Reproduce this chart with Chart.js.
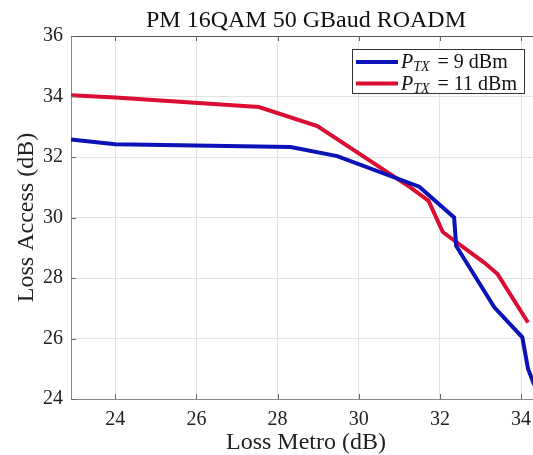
<!DOCTYPE html>
<html>
<head>
<meta charset="utf-8">
<script src="https://cdn.jsdelivr.net/npm/chart.js"></script>
<style>
  html,body{margin:0;padding:0;background:#fff;overflow:hidden}
  #wrap{width:533px;height:455px;position:relative;overflow:hidden}
</style>
</head>
<body>
<div id="wrap"><canvas id="c" width="541" height="455"></canvas></div>
<script>
/* =====  data  ===== */
const xTicks = [24, 26, 28, 30, 32, 34];
const yTicks = [24, 26, 28, 30, 32, 34, 36];

const series9x  = [22.91, 24.0, 28.32, 29.47, 31.49, 32.35, 32.40, 33.34, 34.03, 34.17, 34.30, 34.42];
const series9y  = [32.58, 32.42, 32.33, 32.03, 31.02, 30.0, 29.06, 27.03, 26.04, 25.0, 24.55, 24.2];
const series11x = [22.91, 24.0, 27.54, 28.98, 31.28, 31.72, 32.07, 33.09, 33.42, 34.17];
const series11y = [34.04, 33.97, 33.65, 33.02, 30.99, 30.55, 29.52, 28.51, 28.13, 26.53];

const legendValues = ['9 dBm', '11 dBm'];
const colors = ['#0a12b8', '#dc0d33'];
const titleText = 'PM 16QAM 50 GBaud ROADM';

const serif = "'Liberation Serif', 'DejaVu Serif', serif";
const toPts = (xs, ys) => xs.map((x, i) => ({x, y: ys[i]}));

/* =====  title centred over the axes box  ===== */
const axesTitle = {
  id: 'axesTitle',
  afterDraw(chart){
    const {ctx, chartArea:a} = chart;
    ctx.save();
    ctx.fillStyle = '#111';
    ctx.font = '24px ' + serif;
    ctx.textAlign = 'center';
    ctx.textBaseline = 'alphabetic';
    ctx.fillText(titleText, (a.left + a.right) / 2, 27);
    ctx.restore();
  }
};

/* =====  inner tick marks (matlab style)  ===== */
const innerTicks = {
  id: 'innerTicks',
  afterDraw(chart){
    const {ctx, chartArea:a, scales:{x, y}} = chart;
    ctx.save();
    ctx.strokeStyle = '#666';
    ctx.lineWidth = 1;
    ctx.beginPath();
    xTicks.forEach(v => {
      const px = Math.round(x.getPixelForValue(v)) + .5;
      ctx.moveTo(px, a.bottom); ctx.lineTo(px, a.bottom - 5);
      ctx.moveTo(px, a.top);    ctx.lineTo(px, a.top + 5);
    });
    yTicks.forEach(v => {
      const py = Math.round(y.getPixelForValue(v)) + .5;
      ctx.moveTo(a.left, py); ctx.lineTo(a.left + 5, py);
    });
    ctx.stroke();
    ctx.restore();
  }
};

/* =====  legend box with subscripts  ===== */
const texLegend = {
  id: 'texLegend',
  afterDraw(chart){
    const ctx = chart.ctx;
    const bx = 352, by = 49, bw = 172, bh = 44;
    ctx.save();
    ctx.fillStyle = '#fff';
    ctx.fillRect(bx, by, bw, bh);
    ctx.strokeStyle = '#333';
    ctx.lineWidth = 1;
    ctx.strokeRect(bx + .5, by + .5, bw, bh);
    legendValues.forEach((val, i) => {
      const ly = by + 13 + i * 21.5;
      ctx.strokeStyle = colors[i];
      ctx.lineWidth = 4;
      ctx.beginPath(); ctx.moveTo(356, ly); ctx.lineTo(398, ly); ctx.stroke();
      ctx.fillStyle = '#111';
      ctx.textBaseline = 'alphabetic';
      let tx = 401;
      ctx.font = 'italic 20px ' + serif;
      ctx.fillText('P', tx, ly + 6); tx += ctx.measureText('P').width;
      ctx.font = 'italic 14px ' + serif;
      ctx.fillText('TX', tx, ly + 9); tx += ctx.measureText('TX').width;
      ctx.font = '20px ' + serif;
      ctx.fillText(' = ' + val, tx + 3, ly + 6);
    });
    ctx.restore();
  }
};

new Chart(document.getElementById('c'), {
  type: 'scatter',
  data: {
    datasets: [
      { label: 'P_TX = 9 dBm',  data: toPts(series9x, series9y),  borderColor: colors[0], backgroundColor: colors[0] },
      { label: 'P_TX = 11 dBm', data: toPts(series11x, series11y), borderColor: colors[1], backgroundColor: colors[1] }
    ].map(d => Object.assign(d, { showLine: true, borderWidth: 4, pointRadius: 0, tension: 0, clip: 2 }))
  },
  options: {
    responsive: false,
    animation: false,
    layout: { padding: { left: 0, right: 0, top: 36, bottom: 0 } },
    plugins: {
      legend: { display: false },
      tooltip: { enabled: false },
      title: { display: false }
    },
    scales: {
      x: {
        type: 'linear',
        min: 22.91, max: 34.49,
        afterBuildTicks: s => { s.ticks = xTicks.map(v => ({value: v})); },
        afterFit: s => { s.height = 56; },
        grid: { color: '#e3e3e3', drawTicks: false },
        border: { color: '#888', width: 1 },
        ticks: { color: '#222', padding: 9, font: { family: serif, size: 20 } },
        title: { display: true, text: 'Loss Metro (dB)', color: '#222',
                 font: { family: serif, size: 24, lineHeight: 1 }, padding: { top: 0, bottom: 0 } }
      },
      y: {
        type: 'linear',
        min: 24, max: 36,
        afterBuildTicks: s => { s.ticks = yTicks.map(v => ({value: v})); },
        afterFit: s => { s.width = 71; },
        grid: { color: ctx => ctx.tick && ctx.tick.value === 36 ? '#555' : '#e3e3e3', drawTicks: false },
        border: { color: '#888', width: 1 },
        ticks: { color: '#222', padding: 8, font: { family: serif, size: 20 } },
        title: { display: true, text: 'Loss Access (dB)', color: '#222',
                 font: { family: serif, size: 24 }, padding: { top: 12, bottom: 0 } }
      }
    }
  },
  plugins: [axesTitle, innerTicks, texLegend]
});
</script>
</body>
</html>
